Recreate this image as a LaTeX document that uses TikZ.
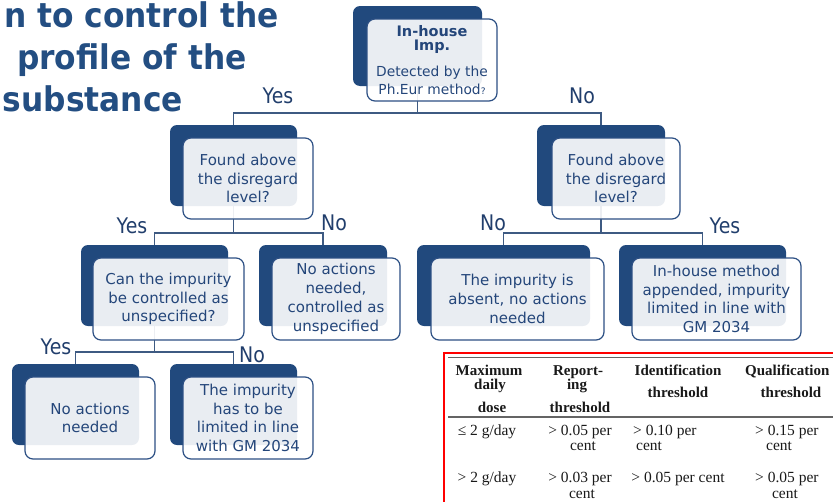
\documentclass[tikz,border=0pt]{standalone}
\usepackage{fontspec}
\usepackage{graphicx}
\setmainfont{DejaVu Sans}
\newfontfamily\tabfont{Liberation Serif}
\definecolor{darkfill}{RGB}{33,73,125}
\definecolor{edgeblue}{RGB}{45,80,132}
\definecolor{txtblue}{RGB}{36,70,122}
\definecolor{labblue}{RGB}{33,62,108}
\definecolor{connblue}{RGB}{62,90,130}
\definecolor{titleblue}{RGB}{35,78,130}
\definecolor{tabtext}{RGB}{25,25,25}
\definecolor{rulegray}{RGB}{100,100,100}
\newcommand{\mylbl}[1]{\scalebox{0.88}[1]{#1}}
\begin{document}
\begin{tikzpicture}[x=1pt,y=-1pt,
  darkbox/.style={fill=darkfill, draw=none, rounded corners=7pt, inner sep=0pt, outer sep=0pt, anchor=north west},
  lightbox/.style={fill=white, fill opacity=0.9, text opacity=1, draw=edgeblue, line width=1.2pt, rounded corners=8pt, inner sep=0pt, outer sep=0pt, anchor=north west, align=center, text=txtblue, font=\fontsize{15}{18.8}\selectfont},
  conn/.style={draw=connblue, line width=1.4pt},
  lab/.style={text=labblue, font=\fontsize{21.5}{22}\selectfont, inner sep=0pt, anchor=base},
  titletext/.style={text=titleblue, font=\bfseries\fontsize{34}{34}\selectfont, inner sep=0pt, anchor=base east},
  toptext/.style={text=txtblue, inner sep=0pt, anchor=base},
  th/.style={text=tabtext, font=\tabfont\bfseries\fontsize{15}{15}\selectfont, inner sep=0pt, anchor=base},
  td/.style={text=tabtext, font=\tabfont\fontsize{15.5}{15.5}\selectfont, inner sep=0pt, anchor=base}
]
\useasboundingbox (0,0) rectangle (833,501);
\clip (0,0) rectangle (833,501);

% title
\node[titletext] (ti1) at (279,27) {\scalebox{0.92}[1]{n to control the}};
\node[titletext] (ti2) at (247,69) {\scalebox{0.92}[1]{profile of the}};
\node[titletext] (ti3) at (183,111) {\scalebox{0.92}[1]{substance}};

% dark boxes
\node[darkbox, minimum width=129pt, minimum height=80pt] (d0) at (353,6) {};
\node[darkbox, minimum width=127pt, minimum height=81pt] (d1) at (170,125) {};
\node[darkbox, minimum width=128pt, minimum height=81pt] (d2) at (537,125) {};
\node[darkbox, minimum width=147pt, minimum height=81pt] (d3) at (81,245) {};
\node[darkbox, minimum width=128pt, minimum height=81pt] (d4) at (259,245) {};
\node[darkbox, minimum width=173pt, minimum height=81pt] (d5) at (417,245) {};
\node[darkbox, minimum width=167pt, minimum height=81pt] (d6) at (619,245) {};
\node[darkbox, minimum width=127pt, minimum height=81pt] (d7) at (12,364) {};
\node[darkbox, minimum width=127pt, minimum height=81pt] (d8) at (170,364) {};

% junction levels
\coordinate (j0) at (0,113);
\coordinate (j1) at (0,233);
\coordinate (j2) at (0,352);

% connectors
\draw[conn] (d0.south) -- (d0.south |- j0) -| (d1.north);
\draw[conn] (d0.south |- j0) -| (d2.north);
\draw[conn] (d1.south) -- (d1.south |- j1) -| (d3.north);
\draw[conn] (d1.south |- j1) -| (d4.north);
\draw[conn] (d2.south) -- (d2.south |- j1) -| (d5.north);
\draw[conn] (d2.south |- j1) -| (d6.north);
\draw[conn] (d3.south) -- (d3.south |- j2) -| (d7.north);
\draw[conn] (d3.south |- j2) -| (d8.north);

% light boxes
\node[lightbox, minimum width=130pt, minimum height=82pt] (l0) at (367,19) {};
\node[lightbox, minimum width=130pt, minimum height=81pt] (l1) at (183,138) {Found above\\the disregard\\level?};
\node[lightbox, minimum width=128pt, minimum height=81pt] (l2) at (552,138) {Found above\\the disregard\\level?};
\node[lightbox, minimum width=151pt, minimum height=82pt] (l3) at (93,258) {Can the impurity\\be controlled as\\unspecified?};
\node[lightbox, minimum width=128pt, minimum height=82pt] (l4) at (272,258) {No actions\\needed,\\controlled as\\unspecified};
\node[lightbox, minimum width=173pt, minimum height=82pt] (l5) at (431,258) {The impurity is\\absent, no actions\\needed};
\node[lightbox, minimum width=169pt, minimum height=82pt] (l6) at (632,258) {In-house method\\appended, impurity\\limited in line with\\GM 2034};
\node[lightbox, minimum width=130pt, minimum height=82pt] (l7) at (25,377) {No actions\\needed};
\node[lightbox, minimum width=130pt, minimum height=82pt] (l8) at (183,377) {The impurity\\has to be\\limited in line\\with GM 2034};

% top box text
\node[toptext, font=\bfseries\fontsize{14.5}{14.5}\selectfont] (t0a) at (432,36) {In-house};
\node[toptext, font=\bfseries\fontsize{14.5}{14.5}\selectfont] (t0b) at (432,50) {Imp.};
\node[toptext, font=\fontsize{13.8}{13.8}\selectfont] (t0c) at (432,76) {Detected by the};
\node[toptext, font=\fontsize{13.8}{13.8}\selectfont] (t0d) at (432,94) {Ph.Eur method{\fontsize{9}{9}\selectfont ?}};

% branch labels
\node[lab] (y0) at (278,103) {\mylbl{Yes}};
\node[lab] (n0) at (582,103) {\mylbl{No}};
\node[lab] (y1) at (132,233) {\mylbl{Yes}};
\node[lab] (n1) at (334,230) {\mylbl{No}};
\node[lab] (n2) at (493,230) {\mylbl{No}};
\node[lab] (y2) at (725,233) {\mylbl{Yes}};
\node[lab] (y3) at (56,354) {\mylbl{Yes}};
\node[lab] (n3) at (252,362) {\mylbl{No}};

% table
\draw[red, line width=2.5pt] (444,520) -- (444,353) -- (850,353);
\draw[rulegray, line width=1.2pt] (448,357.5) -- (850,357.5);
\draw[rulegray, line width=1.8pt] (448,417) -- (850,417);

\node[th] (h1a) at (489,375) {Maximum};
\node[th] (h1b) at (490,389) {daily};
\node[th] (h1c) at (492,412) {dose};
\node[th] (h2a) at (578,375) {Report-};
\node[th] (h2b) at (577,389) {ing};
\node[th] (h2c) at (580,412) {threshold};
\node[th] (h3a) at (678,375) {Identification};
\node[th] (h3b) at (678,397) {threshold};
\node[th, anchor=base west] (h4a) at (745,375) {Qualification};
\node[th] (h4b) at (791,397) {threshold};

\node[td] (r1a) at (487,435) {≤ 2 g/day};
\node[td] (r1b) at (580,435) {> 0.05 per};
\node[td] (r1c) at (583,450) {cent};
\node[td, anchor=base west] (r1d) at (633,435) {> 0.10 per};
\node[td, anchor=base west] (r1e) at (636,450) {cent};
\node[td, anchor=base west] (r1f) at (755,435) {> 0.15 per};
\node[td, anchor=base west] (r1g) at (766,450) {cent};

\node[td] (r2a) at (487,482) {> 2 g/day};
\node[td] (r2b) at (580,482) {> 0.03 per};
\node[td] (r2c) at (582,498) {cent};
\node[td] (r2d) at (678,482) {> 0.05 per cent};
\node[td, anchor=base west] (r2e) at (755,482) {> 0.05 per};
\node[td] (r2f) at (785,498) {cent};
\end{tikzpicture}
\end{document}
